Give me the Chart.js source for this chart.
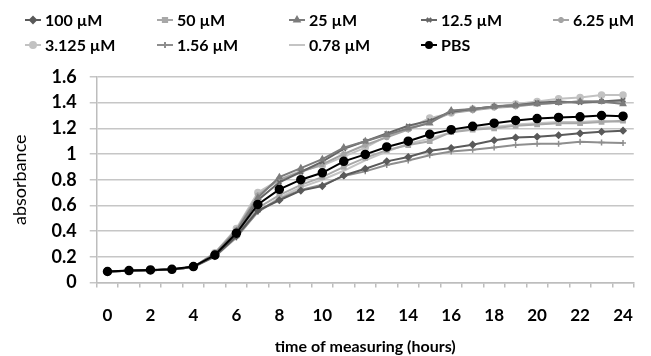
<!DOCTYPE html>
<html>
<head>
<meta charset="utf-8">
<script src="https://cdn.jsdelivr.net/npm/chart.js@4"></script>
<style>
  body { margin: 0; background: #fff; }
  #wrap { width: 651px; height: 356px; }
</style>
</head>
<body>
<div id="wrap"><canvas id="chart"></canvas></div>
<script>
// hours of measuring
const hours = [0,1,2,3,4,5,6,7,8,9,10,11,12,13,14,15,16,17,18,19,20,21,22,23,24];
const yTicks = [0,0.2,0.4,0.6,0.8,1,1.2,1.4,1.6];

// absorbance per concentration
const uM100  = [0.085,0.090,0.095,0.100,0.120,0.205,0.360,0.560,0.640,0.715,0.750,0.833,0.885,0.943,0.977,1.026,1.047,1.073,1.107,1.128,1.135,1.146,1.161,1.174,1.182];
const uM50   = [0.085,0.090,0.095,0.100,0.120,0.210,0.370,0.580,0.680,0.760,0.820,0.900,0.970,1.030,1.070,1.100,1.170,1.190,1.200,1.220,1.230,1.240,1.240,1.250,1.260];
const uM25   = [0.085,0.090,0.095,0.100,0.120,0.220,0.400,0.660,0.820,0.890,0.960,1.050,1.100,1.150,1.200,1.240,1.340,1.350,1.370,1.380,1.390,1.400,1.410,1.410,1.390];
const uM12_5 = [0.085,0.090,0.095,0.100,0.120,0.220,0.390,0.640,0.780,0.860,0.940,1.040,1.100,1.160,1.220,1.260,1.330,1.350,1.370,1.380,1.400,1.410,1.400,1.410,1.420];
const uM6_25 = [0.085,0.090,0.095,0.100,0.120,0.230,0.410,0.680,0.800,0.860,0.920,1.000,1.070,1.130,1.190,1.250,1.320,1.340,1.360,1.370,1.390,1.400,1.410,1.410,1.410];
const uM3_125= [0.085,0.090,0.095,0.100,0.120,0.230,0.420,0.700,0.800,0.870,0.910,0.980,1.050,1.140,1.200,1.280,1.320,1.350,1.370,1.390,1.410,1.430,1.440,1.460,1.460];
const uM1_56 = [0.085,0.090,0.095,0.100,0.120,0.200,0.350,0.550,0.650,0.720,0.760,0.828,0.865,0.915,0.950,0.990,1.020,1.034,1.050,1.070,1.080,1.080,1.095,1.090,1.085];
const uM0_78 = [0.085,0.090,0.095,0.100,0.120,0.210,0.360,0.550,0.660,0.740,0.800,0.870,0.950,1.020,1.080,1.120,1.170,1.200,1.210,1.230,1.240,1.250,1.250,1.260,1.250];
const pbs    = [0.085,0.092,0.097,0.102,0.123,0.213,0.383,0.607,0.725,0.800,0.854,0.943,0.997,1.055,1.100,1.154,1.190,1.216,1.240,1.262,1.276,1.285,1.290,1.300,1.295];

const seriesNames = ['100 µM','50 µM','25 µM','12.5 µM','6.25 µM','3.125 µM','1.56 µM','0.78 µM','PBS'];
const seriesData  = [uM100, uM50, uM25, uM12_5, uM6_25, uM3_125, uM1_56, uM0_78, pbs];
const seriesColor = ['#5a5a5a','#a8a8a8','#7c7c7c','#666666','#a4a4a4','#c2c2c2','#8e8e8e','#c4c4c4','#000000'];
const seriesPoint = ['rectRot','rect','triangle','crossRot','star','circle','cross',false,'circle'];

const datasets = seriesNames.map((name, i) => ({
  label: name,
  data: seriesData[i],
  borderColor: seriesColor[i],
  backgroundColor: seriesColor[i],
  borderWidth: 2,
  pointStyle: seriesPoint[i],
  pointRadius: seriesPoint[i] ? (i === 8 ? 4 : 3) : 0,
  pointBorderWidth: 1.5,
  tension: 0,
  order: i === 8 ? 0 : 1
}));

// legend laid out in a fixed 5 column grid like the original
const gridLegend = {
  id: 'gridLegend',
  afterDraw(chart) {
    const ctx = chart.ctx;
    ctx.save();
    ctx.font = 'bold 16px Lato';
    ctx.textBaseline = 'middle';
    chart.data.datasets.forEach((ds, i) => {
      const tx = 45 + (i % 5) * 132;
      const y = 20 + Math.floor(i / 5) * 25;
      ctx.strokeStyle = ds.borderColor;
      ctx.lineWidth = 2;
      ctx.beginPath();
      ctx.moveTo(tx - 20, y);
      ctx.lineTo(tx - 4, y);
      ctx.stroke();
      if (ds.pointStyle) {
        ctx.fillStyle = ds.backgroundColor;
        Chart.helpers.drawPoint(ctx, { pointStyle: ds.pointStyle, radius: 3, rotation: 0, borderWidth: 1.5 }, tx - 12, y);
      }
      ctx.fillStyle = '#000';
      ctx.fillText(ds.label, tx, y + 1);
    });
    ctx.restore();
  }
};

new Chart(document.getElementById('chart'), {
  type: 'line',
  data: { labels: hours, datasets: datasets },
  plugins: [gridLegend],
  options: {
    responsive: true,
    maintainAspectRatio: false,
    animation: false,
    layout: { padding: { top: 77, right: 0, left: 4, bottom: 0 } },
    plugins: {
      legend: { display: false },
      tooltip: { enabled: false }
    },
    scales: {
      x: {
        offset: true,
        grid: { offset: true, drawOnChartArea: false, color: '#bdbdbd', lineWidth: 1.5, tickLength: 5 },
        border: { color: '#bdbdbd', width: 1.5 },
        ticks: {
          autoSkip: false,
          maxRotation: 0,
          color: '#000',
          padding: 18,
          font: { family: 'Lato', size: 17, weight: 'bold' },
          callback: (v, i) => (hours[i] % 2 === 0 ? String(hours[i]) : '')
        },
        title: {
          display: true,
          text: 'time of measuring (hours)',
          color: '#000',
          font: { family: 'Lato', size: 16, weight: 'bold' },
          padding: { top: -7, bottom: 0 }
        }
      },
      y: {
        min: 0,
        max: 1.6,
        afterBuildTicks: axis => { axis.ticks = yTicks.map(v => ({ value: v })); },
        ticks: {
          color: '#000',
          padding: 13,
          font: { family: 'Lato', size: 18, weight: 'bold' },
          callback: v => String(+v.toFixed(1))
        },
        grid: { color: '#c6c6c6', lineWidth: 1.5, tickLength: 7 },
        border: { color: '#bdbdbd', width: 1.5 },
        title: {
          display: true,
          text: 'absorbance',
          color: '#000',
          font: { family: 'Lato', size: 18 },
          padding: { top: 5, bottom: 8 }
        }
      }
    }
  }
});
</script>
</body>
</html>
